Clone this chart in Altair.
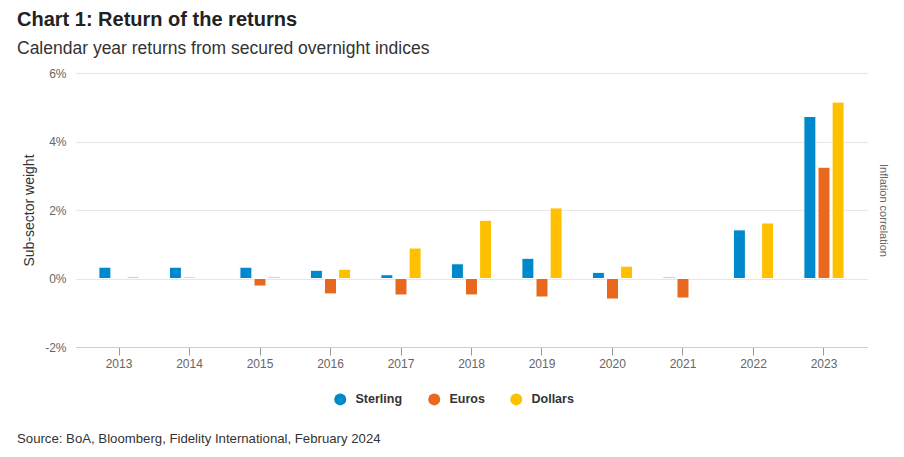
import altair as alt
import pandas as pd

years = ["2013", "2014", "2015", "2016", "2017", "2018", "2019", "2020", "2021", "2022", "2023"]
series = ["Sterling", "Euros", "Dollars"]
sterling = [0.33, 0.33, 0.33, 0.24, 0.11, 0.43, 0.59, 0.18, 0.04, 1.42, 4.73]
euros = [0.0, 0.04, -0.22, -0.45, -0.48, -0.48, -0.54, -0.60, -0.57, 0.0, 3.25]
dollars = [0.05, 0.0, 0.05, 0.27, 0.89, 1.70, 2.06, 0.36, 0.0, 1.62, 5.15]
colors = ["#0088CC", "#E8681E", "#FFC000"]
y_ticks = [-2, 0, 2, 4, 6]

title_text = "Chart 1: Return of the returns"
subtitle_text = "Calendar year returns from secured overnight indices"
source_text = "Source: BoA, Bloomberg, Fidelity International, February 2024"

rows = []
for name, vals in zip(series, [sterling, euros, dollars]):
    for yr, v in zip(years, vals):
        rows.append({"year": yr, "series": name, "value": v})
df = pd.DataFrame(rows)

FONT = "Liberation Sans, Arial, Helvetica, sans-serif"
yscale = alt.Scale(domain=[-2, 6], nice=False, zero=False)

bars = alt.Chart(df).mark_bar(stroke="white", strokeWidth=1).encode(
    x=alt.X("year:N", sort=years,
            scale=alt.Scale(paddingInner=0.43, paddingOuter=0.325),
            axis=alt.Axis(title=None, labelAngle=0, labelColor="#666666", labelFontSize=12,
                          labelFont=FONT, domainColor="#cccccc", tickColor="#999999",
                          tickSize=8, labelPadding=3, grid=False)),
    xOffset=alt.XOffset("series:N", sort=series, scale=alt.Scale(paddingInner=0.15, paddingOuter=0)),
    y=alt.Y("value:Q", scale=yscale,
            axis=alt.Axis(values=y_ticks, labelExpr="datum.value + '%'", title="Sub-sector weight",
                          labelColor="#666666", labelFontSize=12, labelFont=FONT,
                          titleFont=FONT, titleFontSize=14, titleFontWeight="normal",
                          titleColor="#333333", titlePadding=8,
                          domain=False, ticks=False, labelPadding=10,
                          grid=True, gridColor="#e6e6e6")),
    color=alt.Color("series:N", sort=series,
                    scale=alt.Scale(domain=series, range=colors),
                    legend=alt.Legend(orient="none", legendX=258, legendY=320, direction="horizontal",
                                      title=None, symbolType="circle", symbolSize=144,
                                      symbolStrokeWidth=0, labelFont=FONT, labelFontSize=12.5,
                                      labelFontWeight="bold", labelColor="#333333",
                                      columnPadding=25, labelOffset=9)),
)

right_axis = alt.Chart(df).mark_point(opacity=0).encode(
    y=alt.Y("value:Q", scale=yscale,
            axis=alt.Axis(orient="right", title="Inflation correlation", labels=False, ticks=False,
                          domain=False, grid=False, titleAngle=90, titleFont=FONT,
                          titleFontSize=11, titleFontWeight="normal", titleColor="#666666",
                          titlePadding=10)),
)

source = alt.Chart(pd.DataFrame({"t": [source_text]})).mark_text(
    align="left", baseline="alphabetic", fontSize=13.2, color="#333333", font=FONT
).encode(text="t:N", x=alt.value(-59), y=alt.value(370))

chart = alt.layer(bars, right_axis, source).resolve_scale(y="shared").resolve_axis(y="independent").properties(
    width=791, height=274,
    autosize=alt.AutoSizeParams(type="none"),
    padding={"left": 68, "top": 65, "right": 29, "bottom": 100},
    background="white",
    title=alt.Title(text=title_text, subtitle=subtitle_text, anchor="start", frame="group",
                    dx=-59, offset=10, font=FONT, fontSize=20, fontWeight="bold", color="#222222",
                    subtitleFont=FONT, subtitleFontSize=17.5, subtitleColor="#333333",
                    subtitlePadding=10),
).configure_view(stroke=None)

chart.save("out.html", embed_options={"renderer": "svg", "actions": False})
